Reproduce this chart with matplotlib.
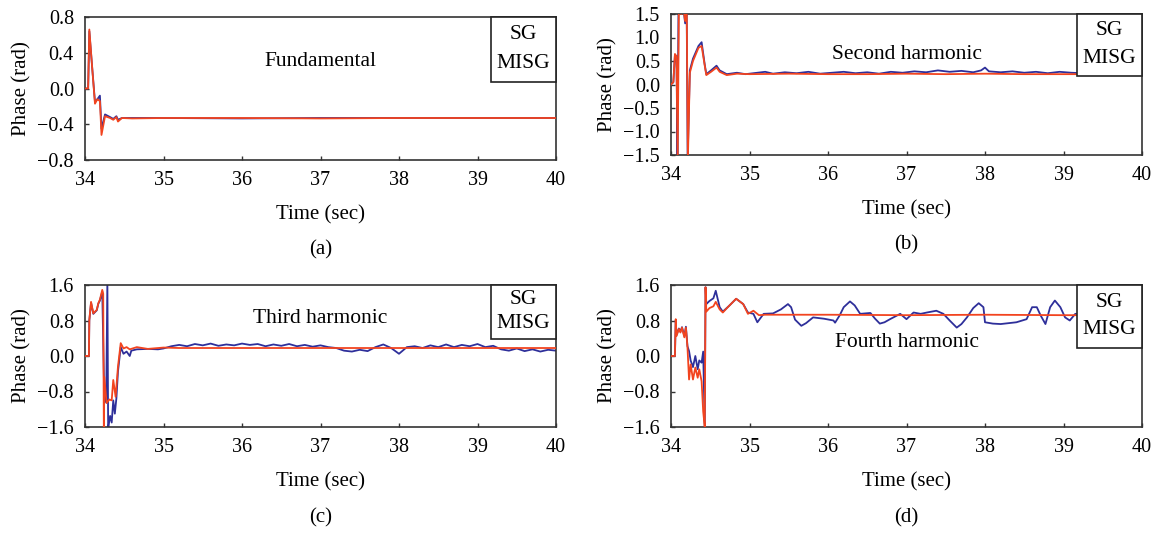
import matplotlib
matplotlib.use("Agg")
import matplotlib.pyplot as plt
from matplotlib.patches import Rectangle

plt.rcParams['font.family'] = ['Liberation Serif', 'DejaVu Serif']
plt.rcParams['font.size'] = 15

BLUE = "#2e2f9a"
RED = "#f2441f"

# (a) fundamental
a_t = [34.0, 34.04, 34.055, 34.09, 34.127, 34.157, 34.19, 34.21, 34.255, 34.32,
       34.36, 34.40, 34.42, 34.47, 34.6, 35.0, 36.0, 37.0, 38.0, 39.0, 40.0]
a_sg = [0, 0, 0.64, 0.25, -0.15, -0.12, -0.08, -0.45, -0.29, -0.32,
        -0.34, -0.31, -0.35, -0.33, -0.33, -0.33, -0.335, -0.33, -0.33, -0.33, -0.33]
a_misg = [0, 0, 0.66, 0.25, -0.17, -0.12, -0.14, -0.52, -0.31, -0.33,
          -0.35, -0.32, -0.37, -0.33, -0.335, -0.33, -0.33, -0.335, -0.33, -0.33, -0.33]

# (b) second harmonic
b_t_sg = [34.0, 34.03, 34.05, 34.07, 34.082, 34.095, 34.13, 34.16, 34.18, 34.20, 34.212,
          34.24, 34.28, 34.35, 34.39, 34.43, 34.45, 34.51, 34.58, 34.62, 34.71, 34.84,
          34.95, 35.1, 35.2, 35.3, 35.45, 35.6, 35.75, 35.9, 36.05, 36.2, 36.35, 36.5,
          36.65, 36.8, 36.95, 37.1, 37.25, 37.4, 37.55, 37.7, 37.85, 37.95, 38.0, 38.05,
          38.2, 38.35, 38.5, 38.65, 38.8, 38.95, 39.1, 39.25, 40.0]
b_sg = [0, 0.05, 0.62, 0.6, -1.6, 1.55, 1.5, 1.6, 1.3, 1.55, -1.6,
        0.3, 0.55, 0.82, 0.9, 0.42, 0.22, 0.3, 0.4, 0.3, 0.22, 0.25,
        0.22, 0.25, 0.27, 0.23, 0.26, 0.24, 0.27, 0.23, 0.25, 0.27, 0.24, 0.26,
        0.23, 0.27, 0.25, 0.28, 0.26, 0.3, 0.27, 0.29, 0.26, 0.3, 0.36, 0.28,
        0.26, 0.28, 0.25, 0.27, 0.24, 0.27, 0.25, 0.24, 0.24]
b_t_misg = [34.0, 34.03, 34.05, 34.07, 34.085, 34.10, 34.13, 34.16, 34.18, 34.20, 34.215,
            34.24, 34.28, 34.35, 34.39, 34.43, 34.45, 34.51, 34.58, 34.62, 34.71, 34.84,
            35.0, 35.5, 36.0, 36.5, 37.0, 37.5, 38.0, 38.5, 39.0, 40.0]
b_misg = [0, 0.05, 0.65, 0.6, -1.6, 1.55, 1.5, 1.6, 1.35, 1.6, -1.6,
          0.25, 0.5, 0.78, 0.82, 0.4, 0.2, 0.27, 0.36, 0.27, 0.2, 0.23,
          0.22, 0.23, 0.22, 0.22, 0.23, 0.22, 0.23, 0.22, 0.22, 0.22]

# (c) third harmonic
c_t_sg = [34.0, 34.05, 34.055, 34.077, 34.106, 34.15, 34.17, 34.19, 34.22, 34.245,
          34.27, 34.285, 34.295, 34.31, 34.32, 34.34, 34.36, 34.38, 34.40, 34.42,
          34.455, 34.49, 34.53, 34.57, 34.59, 34.66, 34.8, 34.93,
          35.0, 35.1, 35.2, 35.3, 35.4, 35.5, 35.6, 35.7, 35.8, 35.9,
          36.0, 36.1, 36.2, 36.3, 36.4, 36.5, 36.6, 36.7, 36.8, 36.9,
          37.0, 37.1, 37.2, 37.3, 37.4, 37.5, 37.6, 37.7, 37.8, 37.9,
          38.0, 38.1, 38.2, 38.3, 38.4, 38.5, 38.6, 38.7, 38.8, 38.9,
          39.0, 39.1, 39.2, 39.3, 39.4, 39.5, 39.6, 39.7, 39.8, 39.9, 40.0]
c_sg = [0, 0, 0.8, 1.2, 0.95, 1.03, 1.18, 1.25, 1.45, -0.9,
        -1.05, 1.7, -1.65, -1.45, -1.35, -1.5, -1.0, -1.3, -0.95, -0.35,
        0.2, 0.05, 0.1, 0.0, 0.12, 0.15, 0.16, 0.15,
        0.17, 0.22, 0.25, 0.22, 0.27, 0.24, 0.28, 0.23, 0.26, 0.24,
        0.28, 0.25, 0.27, 0.22, 0.26, 0.23, 0.27, 0.22, 0.25, 0.21,
        0.24, 0.2, 0.18, 0.12, 0.1, 0.14, 0.11, 0.2, 0.26, 0.18,
        0.05, 0.2, 0.22, 0.18, 0.24, 0.2, 0.26, 0.2, 0.25, 0.22,
        0.27, 0.2, 0.23, 0.15, 0.12, 0.17, 0.11, 0.15, 0.1, 0.14, 0.12]
c_t_misg = [34.0, 34.05, 34.055, 34.077, 34.106, 34.15, 34.17, 34.19, 34.22, 34.232,
            34.24, 34.246, 34.275, 34.31, 34.34, 34.36, 34.39, 34.41, 34.42, 34.455,
            34.49, 34.53, 34.57, 34.66, 34.8, 35.0, 35.2, 36.0, 37.0, 38.0, 39.0, 40.0]
c_misg = [0, 0, 0.81, 1.22, 0.96, 1.04, 1.19, 1.27, 1.49, 1.4,
          -1.7, -0.47, -1.06, -0.98, -1.0, -0.54, -0.92, -0.47, -0.24, 0.29,
          0.17, 0.2, 0.15, 0.2, 0.16, 0.19, 0.18, 0.18, 0.18, 0.18, 0.18, 0.18]

# (d) fourth harmonic
d_t_sg = [34.0, 34.05, 34.06, 34.07, 34.10, 34.12, 34.14, 34.17, 34.19, 34.21,
          34.23, 34.25, 34.28, 34.31, 34.34, 34.36, 34.39, 34.41, 34.43, 34.44,
          34.45, 34.49, 34.54, 34.57, 34.62, 34.66, 34.74, 34.83, 34.92, 34.98,
          35.05, 35.1, 35.18, 35.3, 35.4, 35.49, 35.53, 35.58, 35.66, 35.72, 35.81,
          35.95, 36.07, 36.09, 36.15, 36.2, 36.28, 36.34, 36.41, 36.54, 36.6, 36.66,
          36.72, 36.79, 36.92, 37.0, 37.09, 37.18, 37.26, 37.38, 37.47, 37.55, 37.64,
          37.7, 37.77, 37.85, 37.92, 37.98, 38.0, 38.1, 38.2, 38.3, 38.4,
          38.53, 38.6, 38.66, 38.71, 38.77, 38.83, 38.89, 38.96, 39.02, 39.08,
          39.15, 39.3, 40.0]
d_sg = [0, 0, 0.8, 0.47, 0.62, 0.55, 0.65, 0.45, 0.66, 0.22,
        0.11, -0.1, -0.25, 0.0, -0.3, -0.1, -0.15, 0.1, -1.6, 1.55,
        1.17, 1.24, 1.3, 1.47, 1.1, 1.0, 1.13, 1.29, 1.17, 0.98,
        0.95, 0.76, 0.95, 0.96, 1.05, 1.17, 1.1, 0.82, 0.68, 0.74, 0.87,
        0.84, 0.80, 0.75, 0.92, 1.10, 1.23, 1.14, 0.95, 0.97, 0.84, 0.73,
        0.76, 0.83, 0.95, 0.83, 0.98, 0.95, 0.98, 1.02, 0.95, 0.8, 0.64,
        0.72, 0.87, 1.08, 1.19, 1.1, 0.76, 0.73, 0.72, 0.74, 0.76,
        0.83, 1.1, 1.1, 0.91, 0.72, 1.1, 1.25, 1.1, 0.87, 0.8,
        0.95, 0.95, 0.95]
d_t_misg = [34.0, 34.05, 34.06, 34.07, 34.10, 34.12, 34.14, 34.17, 34.19, 34.21,
            34.23, 34.25, 34.28, 34.31, 34.34, 34.36, 34.39, 34.41, 34.43, 34.44,
            34.45, 34.49, 34.54, 34.57, 34.62, 34.66, 34.74, 34.83, 34.92, 34.98,
            35.05, 35.12, 35.2, 36.0, 37.0, 38.0, 39.0, 40.0]
d_misg = [0, 0, 0.83, 0.45, 0.61, 0.53, 0.64, 0.42, 0.64, 0.19,
          -0.53, -0.19, -0.53, -0.26, -0.49, -0.3, -0.57, -1.25, -1.6, 1.55,
          1.0, 1.08, 1.12, 1.22, 1.05, 0.98, 1.13, 1.29, 1.17, 0.95,
          1.02, 0.92, 0.93, 0.93, 0.92, 0.93, 0.92, 0.92]

panels = [
    dict(rect=(85, 17, 556, 160), sg=(a_t, a_sg), mi=(a_t, a_misg), ylim=(-0.8, 0.8),
         yticks=[-0.8, -0.4, 0.0, 0.4, 0.8], title="Fundamental", tpos=(37.0, 0.3),
         tag="(a)", tagy=250, box=0.545),
    dict(rect=(671, 14, 1142, 155), sg=(b_t_sg, b_sg), mi=(b_t_misg, b_misg), ylim=(-1.5, 1.5),
         yticks=[-1.5, -1.0, -0.5, 0.0, 0.5, 1.0, 1.5], title="Second harmonic", tpos=(37.0, 0.63),
         tag="(b)", tagy=245, box=0.56),
    dict(rect=(85, 285, 556, 427), sg=(c_t_sg, c_sg), mi=(c_t_misg, c_misg), ylim=(-1.6, 1.6),
         yticks=[-1.6, -0.8, 0.0, 0.8, 1.6], title="Third harmonic", tpos=(37.0, 0.84),
         tag="(c)", tagy=518, box=0.62),
    dict(rect=(671, 285, 1142, 427), sg=(d_t_sg, d_sg), mi=(d_t_misg, d_misg), ylim=(-1.6, 1.6),
         yticks=[-1.6, -0.8, 0.0, 0.8, 1.6], title="Fourth harmonic", tpos=(37.0, 0.3),
         tag="(d)", tagy=518, box=0.555),
]

W, H = 1156, 533
fig = plt.figure(figsize=(W / 100, H / 100), dpi=100)

for p in panels:
    l, t, r, b = p["rect"]
    ax = fig.add_axes([l / W, 1 - b / H, (r - l) / W, (b - t) / H])
    ax.plot(*p["sg"], color=BLUE, lw=1.3, zorder=2)
    ax.plot(*p["mi"], color=RED, lw=1.3, zorder=3)
    ax.set_xlim(34, 40)
    ax.set_ylim(*p["ylim"])
    ax.set_xticks(range(34, 41))
    ax.set_yticks(p["yticks"])
    ax.set_yticklabels(["{:.1f}".format(v).replace("-", "\u2212") for v in p["yticks"]])
    ax.tick_params(direction="in", length=3, width=1, color="#333333", labelsize=14.5)
    ax.tick_params(axis="y", pad=8)
    ax.tick_params(axis="x", pad=8)
    for s in ax.spines.values():
        s.set_color("#333333")
        s.set_linewidth(1.2)
    ax.set_xlabel("Time (sec)", labelpad=11)
    ax.set_ylabel("Phase (rad)", labelpad=4)
    ax.text(*p["tpos"], p["title"], ha="center", va="center", fontsize=15.5)
    # legend box (text only, covers the curves)
    bx = 0.862
    ax.add_patch(Rectangle((bx, p["box"]), 1 - bx, 1 - p["box"], transform=ax.transAxes,
                           facecolor="white", edgecolor="#222222", lw=1.2, zorder=5, clip_on=False))
    bh = 1 - p["box"]
    ax.text((bx + 1) / 2, 1 - bh * 0.27, "SG", transform=ax.transAxes, ha="center", va="center",
            fontsize=15.5, zorder=6)
    ax.text((bx + 1) / 2, 1 - bh * 0.71, "MISG", transform=ax.transAxes, ha="center", va="center",
            fontsize=15.5, zorder=6)
    fig.text(((l + r) / 2) / W, 1 - p["tagy"] / H, p["tag"], ha="center", va="center", fontsize=15)

fig.savefig("out.png", dpi=100, facecolor="white")
